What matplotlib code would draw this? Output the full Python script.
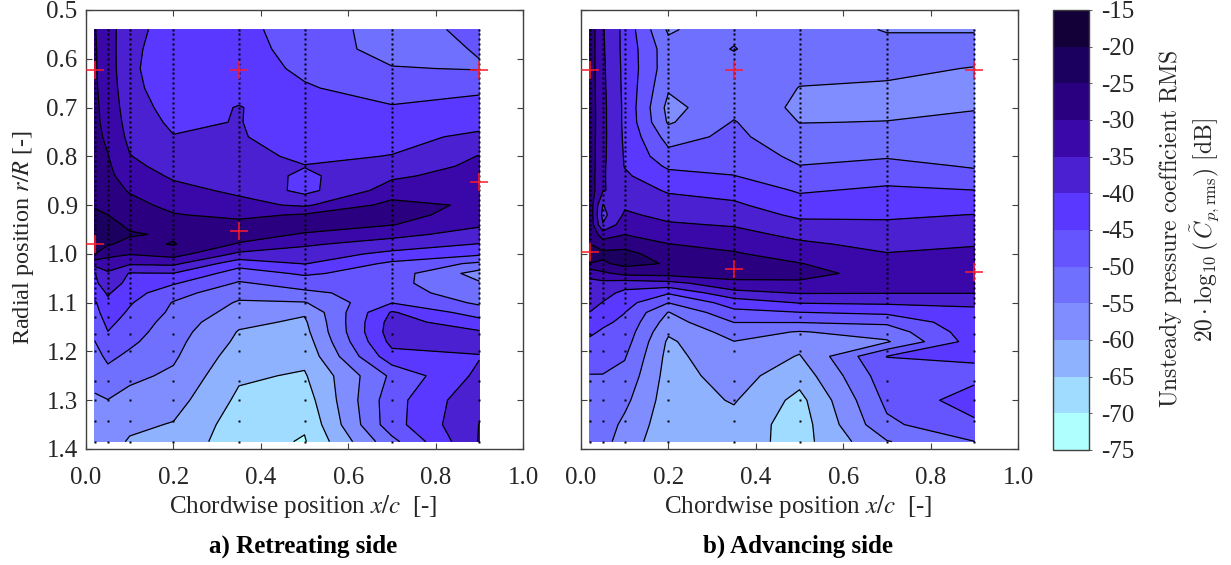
import numpy as np
import matplotlib
matplotlib.use('Agg')
import matplotlib.pyplot as plt
from matplotlib.colors import ListedColormap, BoundaryNorm

plt.rcParams['font.family'] = ['Liberation Serif', 'DejaVu Serif']
plt.rcParams['mathtext.fontset'] = 'stix'
plt.rcParams['axes.unicode_minus'] = False

# Chordwise stations and radial rows of the table
chord = [0.02, 0.05, 0.1, 0.2, 0.35, 0.5, 0.7, 0.9]
radial = [0.54, 0.58, 0.62, 0.66, 0.70, 0.73, 0.76, 0.80, 0.82, 0.84, 0.87, 0.90, 0.92, 0.94, 0.96, 0.98,
          1.00, 1.02, 1.04, 1.06, 1.08, 1.10, 1.12, 1.14, 1.16, 1.18, 1.21, 1.25, 1.30, 1.35, 1.385]

# Retreating side, dB per chordwise station
ret_02 = [-29.8, -29.5, -29.5, -29.3, -29, -28.8, -28.5, -28, -27.8, -27.3, -26.5, -25.4, -24.2, -23, -22, -23,
          -24.9, -33, -40.2, -41, -42.5, -45.7, -46.7, -48.2, -49.2, -50.1, -51.8, -53.3, -55.7, -57.5, -58.5]
ret_05 = [-32.8, -32.8, -32.6, -32.4, -32, -31.8, -31, -29.8, -29.2, -28.7, -28, -26.5, -25, -23.3, -22, -24.5,
          -28.8, -32, -35.8, -37.2, -39.5, -40.9, -42.3, -43.7, -45.1, -46.6, -48.9, -51.7, -55.1, -57, -58]
ret_10 = [-38.5, -38.7, -38.8, -38.2, -37.5, -36.8, -36.2, -34.8, -33.9, -32.7, -30.4, -28.5, -27.3, -26, -24.5, -26.5,
          -29.7, -34.4, -40.3, -41.5, -43, -44.5, -45.7, -47, -47.9, -49, -51, -54, -56.5, -59, -60.5]
ret_20 = [-42, -43, -43.8, -43.5, -42, -41, -39.8, -37.9, -36.7, -35.6, -33.7, -31.3, -29.7, -27.5, -25.7, -24.7,
          -27.8, -34, -40.1, -44.5, -48, -50.3, -51, -52, -52.8, -53.5, -54.3, -55.8, -58, -60.3, -61.5]
ret_35 = [-43.5, -43, -42.5, -41.5, -39.8, -39.8, -39.5, -38, -37.6, -37, -35.8, -33.7, -31.2, -28.5, -27.5, -30.5,
          -36, -43, -47.5, -50.5, -53.5, -55.5, -57, -59, -60.3, -61, -62.5, -64.3, -66, -67.5, -68]
ret_50 = [-47.5, -47, -46, -44.5, -42.5, -43, -43, -41.2, -39.8, -41, -41.5, -35.7, -29.5, -27.5, -30.5, -34.3,
          -37.2, -39.8, -44.2, -48, -50.9, -55.3, -59.5, -60.7, -61.5, -62.5, -63.7, -65.5, -67.5, -69.4, -70.4]
ret_70 = [-52, -52, -49.7, -47.3, -44.6, -43.2, -41.9, -39.8, -37.7, -35.8, -32.8, -28.4, -28.2, -29.8, -33.5, -37.2,
          -41.3, -46, -47.5, -48.5, -48, -45.2, -39.5, -38, -37.5, -38.5, -41.8, -49, -47, -47, -51.5]
ret_90 = [-48.8, -49.7, -50.3, -46, -43.2, -42.1, -38.7, -34.8, -34, -33, -31.8, -30.8, -32.2, -34.3, -37, -40.2,
          -44, -51, -57, -54.5, -52.5, -50.8, -47.5, -43, -39.5, -38, -40.3, -38.8, -36, -34.9, -34.7]

# Advancing side, dB per chordwise station
adv_02 = [-27, -27.1, -27.2, -27.1, -27, -27, -27.1, -27, -27, -27.2, -27, -26.8, -26.5, -26.3, -25.8, -24.9,
          -19.5, -25.3, -33.8, -36, -37, -38, -40.1, -42, -44.2, -45.8, -47.7, -50.2, -52, -53, -53.5]
adv_05 = [-34.6, -34.4, -34.2, -34, -33.8, -33.8, -33.8, -34, -34.2, -34.4, -34.6, -40.2, -41.5, -39.7, -32.5, -27.5,
          -23.7, -25.8, -31, -36.3, -38.3, -40.2, -42.2, -44.1, -45.6, -46.5, -48, -50.2, -51.5, -52.5, -53]
adv_10 = [-41.5, -41.5, -41.3, -41.2, -41, -41, -40.8, -40.4, -40.2, -39.3, -37.5, -35.7, -34.3, -32, -30.1, -26.7,
          -23.5, -23.5, -28.5, -37.5, -41.2, -43.1, -44.9, -46, -47, -47.9, -49.6, -51.5, -53.8, -56.1, -57.7]
adv_20 = [-55.8, -53, -53, -54.5, -56.5, -55.6, -52, -48.3, -45.8, -43.5, -40.5, -38, -36.2, -34.5, -32.2, -29.9,
          -27.5, -25.4, -28, -36.5, -44.5, -49.9, -55.2, -57.3, -59.3, -60.8, -61.5, -62, -62.5, -63, -63]
adv_35 = [-51, -49.8, -51.5, -52, -51.5, -49.7, -48.8, -47.3, -46.2, -44.9, -41.8, -39.2, -37.8, -35.4, -33.5, -31.5,
          -29.5, -26.5, -27, -31.7, -36.4, -42.8, -46.2, -49.9, -53, -55.1, -56.5, -58, -59.6, -61.7, -62.5]
adv_50 = [-53.3, -53.5, -54, -55.1, -56, -55.1, -53.5, -51, -49.9, -48.2, -45.5, -43, -40.8, -38.9, -36.2, -34.2,
          -32.2, -29.8, -27.5, -31.2, -34.7, -39.7, -45.1, -49.8, -55.3, -58.2, -60.3, -63, -66.5, -67.5, -67]
adv_70 = [-55.2, -54, -54.5, -55.3, -56, -54.9, -53.1, -50.4, -48.6, -46.7, -44.2, -42.1, -40.7, -39.3, -37.7, -36.3,
          -34.8, -34, -33, -33.5, -34.8, -39.2, -44, -49, -52.9, -55.5, -44.9, -47, -48.8, -51, -55.3]
adv_90 = [-55.2, -54, -55.1, -56.5, -55.3, -53.9, -52.8, -51, -50.4, -48.7, -44.9, -42, -39.9, -38.5, -37, -35.4,
          -33.7, -33, -33, -33.2, -34.8, -39.2, -41, -41.5, -42, -42.7, -44.2, -46.5, -42.5, -46, -50.1]

# Radial positions of the pressure sensors, drawn as dots
probe_r = [0.54, 0.55, 0.56, 0.57, 0.58, 0.59, 0.60, 0.61, 0.62, 0.63, 0.64, 0.65, 0.66, 0.67, 0.68, 0.69, 0.70,
           0.71, 0.72, 0.73, 0.74, 0.75, 0.76, 0.77, 0.78, 0.79, 0.80, 0.81, 0.82, 0.83, 0.84, 0.85, 0.86, 0.87,
           0.88, 0.89, 0.90, 0.91, 0.92, 0.93, 0.94, 0.95, 0.96, 0.97, 0.98, 0.99, 1.00, 1.01, 1.02, 1.03, 1.04,
           1.05, 1.06, 1.07, 1.08, 1.09, 1.10, 1.13, 1.165, 1.20, 1.26, 1.30, 1.343, 1.385]

# Red crosses
ret_cross_x = [0.02, 0.35, 0.9, 0.9, 0.35, 0.02]
ret_cross_r = [0.623, 0.623, 0.623, 0.852, 0.954, 0.98]
adv_cross_x = [0.02, 0.35, 0.9, 0.02, 0.35, 0.9]
adv_cross_r = [0.623, 0.623, 0.623, 0.996, 1.03, 1.038]

levels = [-75, -70, -65, -60, -55, -50, -45, -40, -35, -30, -25, -20, -15]
level_colors = ['#b0ffff', '#a0dcff', '#8fb2ff', '#7f8dff', '#7070ff', '#6555ff',
                '#5a38ff', '#4a20d0', '#3a08a8', '#2a0080', '#1c0060', '#140038']
x_ticks = [0.0, 0.2, 0.4, 0.6, 0.8, 1.0]
x_labels = ['0.0', '0.2', '0.4', '0.6', '0.8', '1.0']
r_ticks = [0.5, 0.6, 0.7, 0.8, 0.9, 1.0, 1.1, 1.2, 1.3, 1.4]
r_labels = ['0.5', '0.6', '0.7', '0.8', '0.9', '1.0', '1.1', '1.2', '1.3', '1.4']
bar_labels = ['-75', '-70', '-65', '-60', '-55', '-50', '-45', '-40', '-35', '-30', '-25', '-20', '-15']

W, H = 1231, 565
text_color = '#262626'
box_color = '#404040'
fs = 18

cmap = ListedColormap(level_colors)
norm = BoundaryNorm(levels, cmap.N)


def box_axes(left, right, top=10, bottom=449):
    return fig.add_axes([left / W, 1 - bottom / H, (right - left) / W, (bottom - top) / H])


def draw_panel(ax, table, cross_x, cross_r):
    X, R = np.meshgrid(chord, radial)
    cf = ax.contourf(X, R, table, levels=levels, cmap=cmap, norm=norm)
    ax.contour(X, R, table, levels=levels, colors='k', linewidths=0.9, linestyles='solid')
    for c in chord:
        ax.plot([c] * len(probe_r), probe_r, ls='none', marker='s', ms=1.5, mfc='k', mec='none')
    ax.plot(cross_x, cross_r, ls='none', marker='+', ms=12.5, mew=1.1, color='#ff1a2a', clip_on=False, zorder=5)
    ax.set_xlim(0, 1)
    ax.set_ylim(1.4, 0.5)
    ax.set_xticks(x_ticks)
    ax.set_xticklabels(x_labels, fontsize=fs, color=text_color)
    ax.set_yticks(r_ticks)
    ax.tick_params(direction='in', length=4, width=0.8, top=True, right=True, color=box_color, pad=6)
    ax.tick_params(axis='x', pad=13)
    for spine in ax.spines.values():
        spine.set_color(box_color)
        spine.set_linewidth(1.0)
    return cf


fig = plt.figure(figsize=(W / 100, H / 100), dpi=100)

ax1 = box_axes(86, 523)
table_ret = np.column_stack([ret_02, ret_05, ret_10, ret_20, ret_35, ret_50, ret_70, ret_90])
cf = draw_panel(ax1, table_ret, ret_cross_x, ret_cross_r)
ax1.set_yticklabels(r_labels, fontsize=fs, color=text_color)

ax2 = box_axes(581, 1018)
table_adv = np.column_stack([adv_02, adv_05, adv_10, adv_20, adv_35, adv_50, adv_70, adv_90])
draw_panel(ax2, table_adv, adv_cross_x, adv_cross_r)
ax2.set_yticklabels([])

fig.text(24 / W, 1 - 237 / H, r'Radial position $r/R$ [-]', rotation=90, fontsize=17.5, color=text_color,
         ha='center', va='center')
fig.text(303 / W, 1 - 507 / H, r'Chordwise position $x/c$  [-]', fontsize=fs, color=text_color,
         ha='center', va='center')
fig.text(798 / W, 1 - 507 / H, r'Chordwise position $x/c$  [-]', fontsize=fs, color=text_color,
         ha='center', va='center')
fig.text(303 / W, 1 - 546 / H, 'a) Retreating side', fontsize=fs, fontweight='bold', ha='center', va='center')
fig.text(798 / W, 1 - 546 / H, 'b) Advancing side', fontsize=fs, fontweight='bold', ha='center', va='center')

# Colorbar on its own axes
cax = box_axes(1053, 1089, top=10, bottom=450)
cbar = fig.colorbar(cf, cax=cax, ticks=levels, spacing='proportional')
cbar.ax.set_yticklabels(bar_labels, fontsize=fs, color=text_color)
cbar.ax.tick_params(length=2, width=0.6, color=box_color, pad=7)
cbar.outline.set_edgecolor(box_color)
cbar.outline.set_linewidth(1.0)

fig.text(1170 / W, 1 - 229 / H, r'$\mathrm{Unsteady\ pressure\ coefficient\ RMS}$', rotation=90, fontsize=17,
         color=text_color, ha='center', va='center', math_fontfamily='cm')
fig.text(1205 / W, 1 - 230 / H, r'$20\cdot\log_{10}(\,\tilde{C}_{p,\mathrm{rms}})\ [\mathrm{dB}]$', rotation=90,
         fontsize=17, color=text_color, ha='center', va='center', math_fontfamily='cm')

fig.savefig('out.png', dpi=100)
